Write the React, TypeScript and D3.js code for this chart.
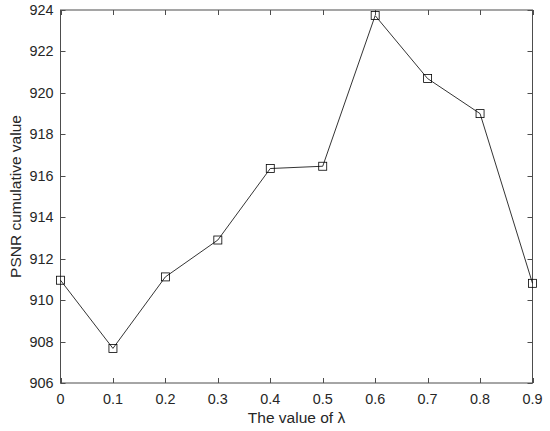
import { useRef, useEffect } from "react";
import * as d3 from "d3";

const lambdas = [0, 0.1, 0.2, 0.3, 0.4, 0.5, 0.6, 0.7, 0.8, 0.9];
const psnrSum = [910.96, 907.67, 911.12, 912.9, 916.35, 916.46, 923.73, 920.69, 919.0, 910.81];
const yTicks = [906, 908, 910, 912, 914, 916, 918, 920, 922, 924];

const W = 550;
const H = 431;
const margin = { left: 60.5, right: 17.5, top: 10, bottom: 48 };

const App = () => {
  const svgRef = useRef<SVGSVGElement>(null);

  useEffect(() => {
    const svg = d3.select(svgRef.current);
    svg.selectAll("*").remove();

    const x = d3.scaleLinear().domain([0, 0.9]).range([margin.left, W - margin.right]);
    const y = d3.scaleLinear().domain([906, 924]).range([H - margin.bottom, margin.top]);
    const axisColor = "#4d4d4d";
    const font = "Liberation Sans, Arial, sans-serif";

    const g = svg.append("g");

    // box
    g.append("rect")
      .attr("x", x(0))
      .attr("y", y(924))
      .attr("width", x(0.9) - x(0))
      .attr("height", y(906) - y(924))
      .attr("fill", "white")
      .attr("stroke", axisColor)
      .attr("stroke-width", 1);

    const tl = 5;
    // x ticks (bottom & top, inward)
    lambdas.forEach((v) => {
      const px = Math.round(x(v)) + 0.5;
      g.append("line").attr("x1", px).attr("x2", px).attr("y1", y(906)).attr("y2", y(906) - tl).attr("stroke", axisColor);
      g.append("line").attr("x1", px).attr("x2", px).attr("y1", y(924)).attr("y2", y(924) + tl).attr("stroke", axisColor);
      g.append("text")
        .attr("x", x(v))
        .attr("y", y(906) + 21)
        .attr("text-anchor", "middle")
        .attr("font-family", font)
        .attr("font-size", 14.4)
        .attr("fill", "#262626")
        .text(String(v));
    });

    yTicks.forEach((v) => {
      const py = Math.round(y(v)) + 0.5;
      g.append("line").attr("x1", x(0)).attr("x2", x(0) + tl).attr("y1", py).attr("y2", py).attr("stroke", axisColor);
      g.append("line").attr("x1", x(0.9)).attr("x2", x(0.9) - tl).attr("y1", py).attr("y2", py).attr("stroke", axisColor);
      g.append("text")
        .attr("x", x(0) - 7)
        .attr("y", y(v))
        .attr("dy", "0.35em")
        .attr("text-anchor", "end")
        .attr("font-family", font)
        .attr("font-size", 14.4)
        .attr("fill", "#262626")
        .text(String(v));
    });

    const pts: [number, number][] = lambdas.map((v, i) => [v, psnrSum[i]]);
    const line = d3
      .line<[number, number]>()
      .x((d) => x(d[0]))
      .y((d) => y(d[1]));

    g.append("path")
      .datum(pts)
      .attr("d", line)
      .attr("fill", "none")
      .attr("stroke", "#000")
      .attr("stroke-width", 0.8);

    g.selectAll("rect.mk")
      .data(pts)
      .join("rect")
      .attr("class", "mk")
      .attr("x", (d) => x(d[0]) - 4)
      .attr("y", (d) => y(d[1]) - 4)
      .attr("width", 8)
      .attr("height", 8)
      .attr("fill", "none")
      .attr("stroke", "#000")
      .attr("stroke-width", 0.8);

    g.append("text")
      .attr("x", (x(0) + x(0.9)) / 2)
      .attr("y", H - 8)
      .attr("text-anchor", "middle")
      .attr("font-family", font)
      .attr("font-size", 15.5)
      .attr("fill", "#262626")
      .text("The value of \u03bb");

    g.append("text")
      .attr("transform", `translate(20.5,${(y(906) + y(924)) / 2}) rotate(-90)`)
      .attr("text-anchor", "middle")
      .attr("font-family", font)
      .attr("font-size", 15.5)
      .attr("fill", "#262626")
      .text("PSNR cumulative value");
  }, []);

  return (
    <svg
      ref={svgRef}
      width={W}
      height={H}
      style={{ position: "absolute", left: 0, top: 0, background: "white" }}
    />
  );
};

export default App;
